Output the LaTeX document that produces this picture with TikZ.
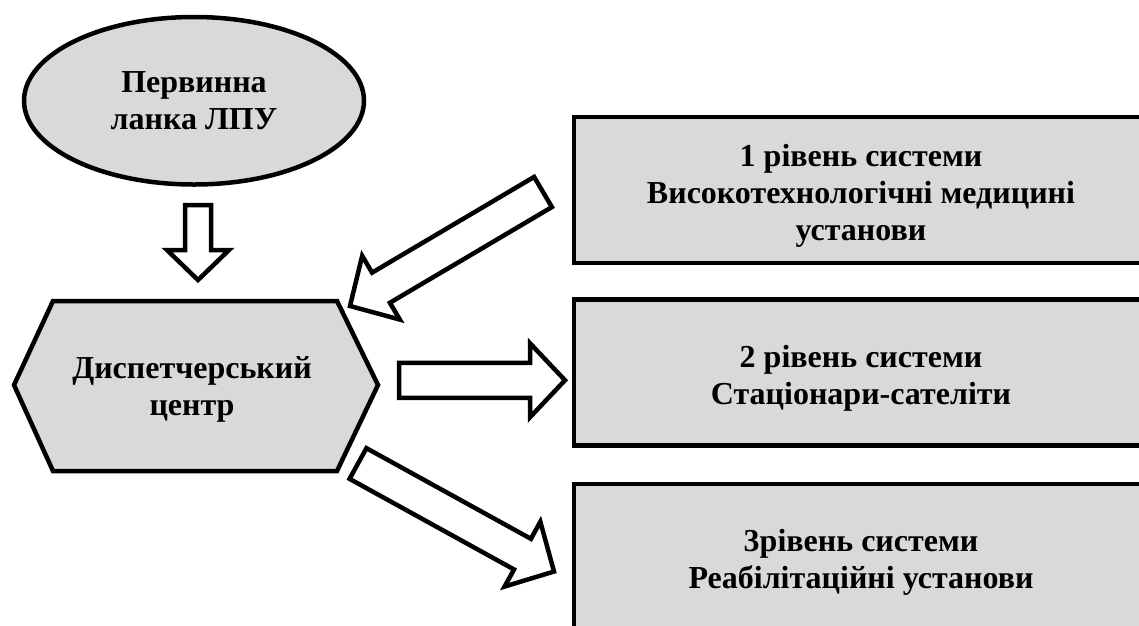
\documentclass[tikz,border=0pt]{standalone}
\usepackage{fontspec}
\setmainfont{Liberation Serif}
\usetikzlibrary{calc,shapes.geometric}
\definecolor{boxgray}{HTML}{D9D9D9}
\newcommand\blockarr[6]{% name, tail, tip, half shaft, half head, head length
  \coordinate (#1h) at ($(#3)!#6!(#2)$);
  \draw[blockarrow] ($(#2)!#4!90:(#3)$) -- ($(#1h)!#4!90:(#3)$) -- ($(#1h)!#5!90:(#3)$) -- (#3)
     -- ($(#1h)!#5!-90:(#3)$) -- ($(#1h)!#4!-90:(#3)$) -- ($(#2)!#4!-90:(#3)$) -- cycle;
}
\tikzset{
  shapeline/.style={draw=black, line width=4.5pt, fill=boxgray},
  lbl/.style={font=\fontsize{32}{37}\selectfont\bfseries, align=center, inner sep=0pt, text=black},
  ellipsebox/.style={shapeline, ellipse, minimum width=340pt, minimum height=167.5pt, inner sep=0pt, lbl},
  levelbox/.style={shapeline, rectangle, minimum width=572pt, minimum height=146pt, inner sep=0pt},
  blockarrow/.style={draw=black, line width=4.5pt, fill=white, line join=miter},
}
\begin{document}
\begin{tikzpicture}[x=1pt,y=-1pt]
\useasboundingbox (0,0) rectangle (1139,625);
\clip (0,0) rectangle (1139,625);
\fill[white] (0,0) rectangle (1139,625);

% primary link ellipse
\node[ellipsebox] (prim) at (194,100.75) {Первинна\\ланка ЛПУ};

% dispatcher hexagon
\draw[shapeline] (14,385) -- (53,301) -- (337,301) -- (378,385) -- (337,471) -- (53,471) -- cycle;
\node[lbl] (disp) at (192,389.5) {Диспетчерський\\центр};

% level boxes
\node[levelbox] (lev1) at (860,190) {};
\node[lbl] (lev1t) at (861,196) {1 рівень системи\\Високотехнологічні медицині\\установи};
\node[levelbox] (lev2) at (860,372.5) {};
\node[lbl] (lev2t) at (861,378) {2 рівень системи\\Стаціонари-сателіти};
\node[levelbox] (lev3) at (860,557) {};
\node[lbl] (lev3t) at (861,562.5) {3рівень системи\\Реабілітаційні установи};

% block arrows
\coordinate (a0tail) at (198,205);
\coordinate (a0tip) at (198,280);
\blockarr{a0}{a0tail}{a0tip}{13pt}{31pt}{30pt}

\coordinate (a1tail) at (543,192);
\coordinate (a1tip) at (350,306);
\blockarr{a1}{a1tail}{a1tip}{17.5pt}{37pt}{36pt}

\coordinate (a2tail) at (399,380.25);
\coordinate (a2tip) at (565,380.25);
\blockarr{a2}{a2tail}{a2tip}{17.5pt}{37pt}{35pt}

\coordinate (a3tail) at (358,463.5);
\coordinate (a3tip) at (554,571.5);
\blockarr{a3}{a3tail}{a3tip}{17.5pt}{37pt}{36pt}
\end{tikzpicture}
\end{document}
